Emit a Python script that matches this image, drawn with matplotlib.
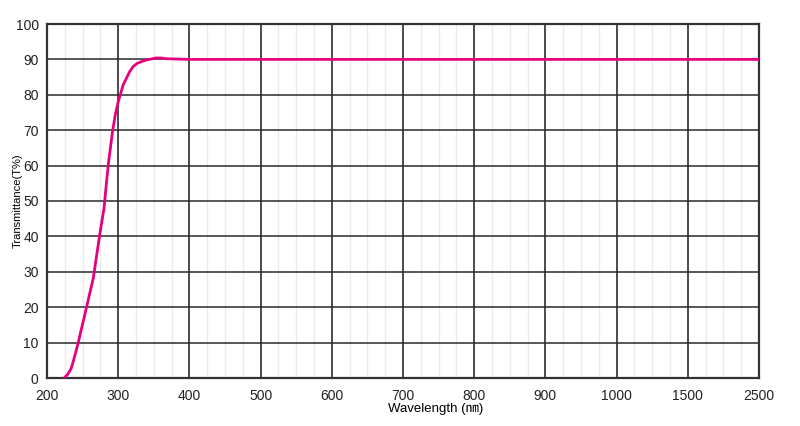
import matplotlib
matplotlib.use('Agg')
import matplotlib.pyplot as plt
import numpy as np

# wavelength breakpoints of the piecewise x axis (equally spaced on screen)
x_breaks = [200, 300, 400, 500, 600, 700, 800, 900, 1000, 1500, 2500]
x_labels = ['200', '300', '400', '500', '600', '700', '800', '900', '1000', '1500', '2500']

# transmittance curve
wavelength = [224, 229, 234, 238, 243, 253, 265, 274, 280, 286, 292, 296, 300, 307,
              316, 321, 327, 333, 339, 346, 353, 360, 367, 400, 600, 1000, 1500, 2500]
transmittance = [0, 1.0, 2.7, 5.5, 9.3, 17.8, 28.2, 40.4, 47.9, 60.2, 69.6, 74.5, 78.0,
                 82.8, 86.5, 88.0, 88.9, 89.4, 89.8, 90.1, 90.4, 90.4, 90.2, 90, 90,
                 90, 90, 90]

y_ticks = list(range(0, 101, 10))

idx = np.arange(len(x_breaks), dtype=float)


def fwd(w):
    return np.interp(w, x_breaks, idx)


def inv(i):
    return np.interp(i, idx, x_breaks)


plt.rcParams['font.family'] = ['Liberation Sans', 'DejaVu Sans']

fig = plt.figure(figsize=(8, 4.26), dpi=100)
ax = fig.add_axes([47 / 800, 1 - 378 / 426, (759 - 47) / 800, (378 - 24) / 426])
ax.set_xscale('function', functions=(fwd, inv))
ax.set_xlim(200, 2500)
ax.set_ylim(0, 100)

# minor grid: 3 lines inside each interval
minor = []
for a, b in zip(x_breaks[:-1], x_breaks[1:]):
    minor += [a + (b - a) * k / 4 for k in (1, 2, 3)]
ax.set_xticks(x_breaks)
ax.set_xticklabels(x_labels)
ax.set_xticks(minor, minor=True)
ax.set_yticks(y_ticks)

for m in minor:
    ax.axvline(m, color='#ebebeb', lw=1.0, zorder=1)
for b in x_breaks[1:-1]:
    ax.axvline(b, color='#1a1a1a', lw=1.1, zorder=2)
for t in y_ticks[1:-1]:
    ax.axhline(t, color='#2a2a2a', lw=1.1, zorder=2)

ax.plot(wavelength, transmittance, color='#e6007e', lw=2.0, zorder=3,
        solid_joinstyle='round', solid_capstyle='round')

for s in ax.spines.values():
    s.set_color('#333333')
    s.set_linewidth(1.6)

ax.tick_params(axis='both', which='both', length=0, labelsize=10, colors='#222222')
ax.tick_params(axis='x', pad=8)
ax.tick_params(axis='y', pad=6)

ax.set_xlabel('Wavelength (\u339a)', fontsize=9.5,
              family=['Liberation Sans', 'Noto Sans CJK JP'])
ax.xaxis.set_label_coords(389 / 712, -25 / 354)
ax.set_ylabel('Transmittance(T%)', fontsize=8)
ax.yaxis.set_label_coords(-24 / 712, 0.5)

fig.savefig('out.png', dpi=100)
